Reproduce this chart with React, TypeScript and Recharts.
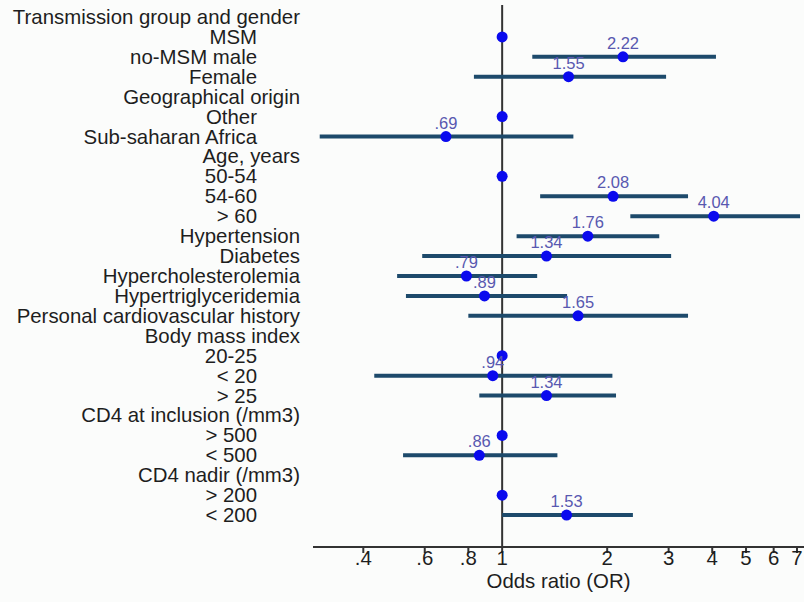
import React from 'react';
import { ScatterChart, Scatter, XAxis, YAxis, ErrorBar, ReferenceLine } from 'recharts';

const categories = [
  'Transmission group and gender', 'MSM', 'no-MSM male', 'Female',
  'Geographical origin', 'Other', 'Sub-saharan Africa',
  'Age, years', '50-54', '54-60', '> 60',
  'Hypertension', 'Diabetes', 'Hypercholesterolemia', 'Hypertriglyceridemia', 'Personal cardiovascular history',
  'Body mass index', '20-25', '< 20', '> 25',
  'CD4 at inclusion (/mm3)', '> 500', '< 500',
  'CD4 nadir (/mm3)', '> 200', '< 200',
];
const isHeader = [
  true, false, false, false,
  true, false, false,
  true, false, false, false,
  true, true, true, true, true,
  true, false, false, false,
  true, false, false,
  true, false, false,
];
const oddsRatios = [null, 1, 2.22, 1.55, null, 1, 0.69, null, 1, 2.08, 4.04, 1.76, 1.34, 0.79, 0.89, 1.65, null, 1, 0.94, 1.34, null, 1, 0.86, null, 1, 1.53];
const ciLower = [null, null, 1.22, 0.83, null, null, 0.3, null, null, 1.285, 2.33, 1.1, 0.59, 0.5, 0.53, 0.8, null, null, 0.43, 0.86, null, null, 0.52, null, null, 1.0];
const ciUpper = [null, null, 4.1, 2.95, null, null, 1.6, null, null, 3.41, 7.14, 2.82, 3.05, 1.26, 1.535, 3.41, null, null, 2.07, 2.12, null, null, 1.44, null, null, 2.37];
const valueLabels = ['', '', '2.22', '1.55', '', '', '.69', '', '', '2.08', '4.04', '1.76', '1.34', '.79', '.89', '1.65', '', '', '.94', '1.34', '', '', '.86', '', '', '1.53'];
const xTicks = [0.4, 0.6, 0.8, 1, 2, 3, 4, 5, 6, 7];

const FONT = '"Liberation Sans", Arial, sans-serif';

const data = categories
  .map((c, i) => ({
    row: i,
    name: c,
    or: oddsRatios[i],
    err: oddsRatios[i] != null && ciLower[i] != null
      ? [(oddsRatios[i] as number) - (ciLower[i] as number), (ciUpper[i] as number) - (oddsRatios[i] as number)]
      : [0, 0],
    label: valueLabels[i],
  }))
  .filter((d) => d.or != null);

const rowTicks = categories.map((_, i) => i);

const YTick = (props: any) => {
  const { y, payload } = props;
  const i = payload.value as number;
  const header = isHeader[i];
  return (
    <text x={header ? 300 : 257} y={y} dy={7} textAnchor="end" fontSize={20.4} fontFamily={FONT} fill="#1e1e1e">
      {categories[i]}
    </text>
  );
};

const DotShape = (props: any) => {
  const { cx, cy, payload } = props;
  return (
    <g>
      <circle cx={cx} cy={cy} r={5.5} fill="#0a0aee" />
      {payload.label ? (
        <text x={cx} y={cy - 8} textAnchor="middle" fontSize={16.5} fontFamily={FONT} fill="#5858b0">
          {payload.label}
        </text>
      ) : null}
    </g>
  );
};

const fmt = (v: number) => (v < 1 ? String(v).replace(/^0/, '') : String(v));

export default function App() {
  return (
    <div style={{ position: 'absolute', left: 0, top: 0, width: 804, height: 602, background: '#fbfcfb' }}>
      <ScatterChart width={804} height={602} margin={{ top: 5, right: 0, bottom: 0, left: 0 }}>
        <XAxis
          type="number"
          dataKey="or"
          scale="log"
          domain={[0.287, 7.33]}
          allowDataOverflow
          ticks={xTicks}
          interval={0}
          tickFormatter={fmt}
          height={55}
          stroke="#333"
          strokeWidth={2}
          tickSize={6}
          tickMargin={-2}
          tick={{ fontSize: 20.4, fontFamily: FONT, fill: '#1e1e1e' }}
          label={{ value: 'Odds ratio (OR)', position: 'insideBottom', offset: 14, fontSize: 20.4, fontFamily: FONT, fill: '#1e1e1e' }}
        />
        <YAxis
          type="number"
          dataKey="row"
          domain={[-0.6, 26.6]}
          reversed
          ticks={rowTicks}
          interval={0}
          width={313}
          axisLine={false}
          tickLine={false}
          tick={<YTick />}
        />
        <ReferenceLine x={1} stroke="#333" strokeWidth={2} />
        <Scatter data={data} isAnimationActive={false} shape={<DotShape />}>
          <ErrorBar dataKey="err" direction="x" width={0} stroke="#1d4a6b" strokeWidth={4} />
        </Scatter>
      </ScatterChart>
    </div>
  );
}
